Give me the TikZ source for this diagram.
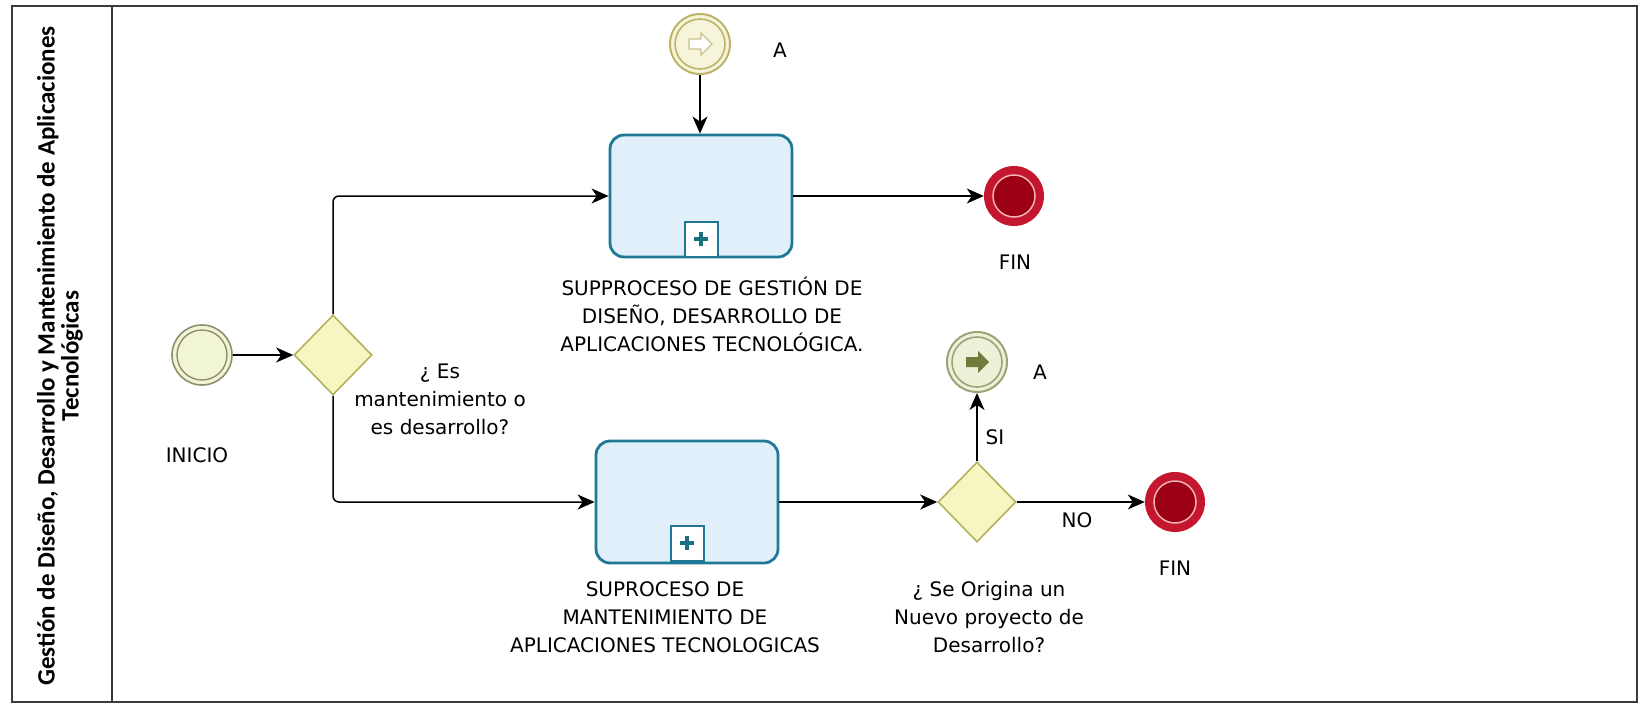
\documentclass[tikz,border=0pt]{standalone}
\usepackage{fontspec}
\setmainfont{DejaVu Sans}
\newfontfamily\lanefont{Carlito}
\usetikzlibrary{shapes.geometric,arrows.meta,calc}
\definecolor{taskborder}{HTML}{1F7896}
\definecolor{taskfill}{HTML}{E1EFFA}
\definecolor{plusc}{HTML}{1A6F80}
\definecolor{gwfill}{HTML}{F6F6C2}
\definecolor{gwborder}{HTML}{B5B15C}
\definecolor{startring}{HTML}{8F8F6B}
\definecolor{startfill}{HTML}{F1F5D6}
\definecolor{linkring}{HTML}{BDB46A}
\definecolor{linkfill}{HTML}{F7F4DC}
\definecolor{throwring}{HTML}{9EA277}
\definecolor{throwfill}{HTML}{EEF0D8}
\definecolor{throwarrow}{HTML}{6F7D3C}
\definecolor{endred}{HTML}{C4162F}
\definecolor{enddark}{HTML}{9C0016}
\definecolor{endpink}{HTML}{F2B3B3}
\definecolor{framegray}{HTML}{3A3A3A}
\begin{document}
\begin{tikzpicture}[x=1pt,y=-1pt,
  every node/.style={font=\fontsize{20}{28}\selectfont, text=black},
  lbl/.style={align=center, inner sep=0pt},
  taskbox/.style={draw=taskborder, line width=2.8pt, fill=taskfill, rounded corners=14pt,
    minimum width=182pt, minimum height=122pt, inner sep=0pt},
  marker/.style={draw=taskborder, line width=2pt, fill=white, minimum width=33pt,
    minimum height=35pt, inner sep=0pt},
  gw/.style={diamond, draw=gwborder, line width=1.6pt, fill=gwfill, minimum width=78pt,
    minimum height=80pt, inner sep=0pt},
  evt/.style={circle, minimum size=60pt, inner sep=0pt},
  flow/.style={draw=black, line width=1.5pt, -{Stealth[length=17pt,width=15pt,inset=5pt]}}
]
\fill[white] (0,0) rectangle (1641,707);
\useasboundingbox (0,0) rectangle (1641,707);

% frame
\draw[framegray, line width=2pt] (12,6) rectangle (1637,702);
\draw[framegray, line width=2pt] (112,6) -- (112,702);
\node[rotate=90, align=center, inner sep=0pt,
  font=\lanefont\bfseries\fontsize{25}{24}\selectfont] (lane) at (60,356)
  {Gestión de Diseño, Desarrollo y Mantenimiento de Aplicaciones\\Tecnológicas};

% start event
\node[evt, draw=startring, line width=1.6pt, fill=startfill] (start) at (202,355) {};
\draw[startring, line width=1.4pt] (start.center) circle (25);
\node[lbl] (inicio) at (197,455) {INICIO};

% gateway 1
\node[gw] (gw1) at (333,355) {};
\node[lbl] (gw1l) at (440,399) {¿ Es\\mantenimiento o\\es desarrollo?};

% task 1
\node[taskbox] (task1) at (701,196) {};
\node[marker] (mk1) at (701,239) {};
\draw[plusc, line width=3.5pt] ($(mk1.center)+(-7,0)$) -- ($(mk1.center)+(7,0)$);
\draw[plusc, line width=3.5pt] ($(mk1.center)+(0,-7)$) -- ($(mk1.center)+(0,7)$);
\node[lbl] (task1l) at (712,314) {SUPPROCESO DE GESTIÓN DE\\DISEÑO, DESARROLLO DE\\APLICACIONES TECNOLÓGICA.};

% task 2
\node[taskbox] (task2) at (687,502) {};
\node[marker] (mk2) at (687,543) {};
\draw[plusc, line width=3.5pt] ($(mk2.center)+(-7,0)$) -- ($(mk2.center)+(7,0)$);
\draw[plusc, line width=3.5pt] ($(mk2.center)+(0,-7)$) -- ($(mk2.center)+(0,7)$);
\node[lbl] (task2l) at (665,617) {SUPROCESO DE\\MANTENIMIENTO DE\\APLICACIONES TECNOLOGICAS};

% catching link event A
\node[evt, draw=linkring, line width=2pt, fill=linkfill] (catchA) at (700,44) {};
\draw[linkring, line width=1.6pt] (catchA.center) circle (25);
\draw[linkring!80, line width=1.2pt, fill=white]
  ($(catchA.center)+(-11,-5)$) -- ($(catchA.center)+(1,-5)$) -- ($(catchA.center)+(1,-11)$)
  -- ($(catchA.center)+(12,0)$) -- ($(catchA.center)+(1,11)$) -- ($(catchA.center)+(1,5)$)
  -- ($(catchA.center)+(-11,5)$) -- cycle;
\node[lbl] (catchAl) at (780,50) {A};

% end event 1
\node[evt, fill=endred] (fin1) at (1014,196) {};
\draw[endpink, line width=1.5pt, fill=enddark] (fin1.center) circle (21);
\node[lbl] (fin1l) at (1015,262) {FIN};

% gateway 2
\node[gw] (gw2) at (977,502) {};
\node[lbl] (gw2l) at (989,617) {¿ Se Origina un\\Nuevo proyecto de\\Desarrollo?};

% throwing link event A
\node[evt, draw=throwring, line width=2pt, fill=throwfill] (throwA) at (977,362) {};
\draw[throwring, line width=1.6pt] (throwA.center) circle (25);
\fill[throwarrow]
  ($(throwA.center)+(-11,-5)$) -- ($(throwA.center)+(1,-5)$) -- ($(throwA.center)+(1,-11)$)
  -- ($(throwA.center)+(12,0)$) -- ($(throwA.center)+(1,11)$) -- ($(throwA.center)+(1,5)$)
  -- ($(throwA.center)+(-11,5)$) -- cycle;
\node[lbl] (throwAl) at (1040,372) {A};

% end event 2
\node[evt, fill=endred] (fin2) at (1175,502) {};
\draw[endpink, line width=1.5pt, fill=enddark] (fin2.center) circle (21);
\node[lbl] (fin2l) at (1175,568) {FIN};

% flows
\draw[flow] (start.east) -- (gw1.west);
\draw[flow, rounded corners=6pt] (gw1.north) |- (task1.west);
\draw[flow, rounded corners=6pt] (gw1.south) |- (task2.west);
\draw[flow] (catchA.south) -- (catchA.south |- task1.north);
\draw[flow] (task1.east) -- (fin1.west);
\draw[flow] (task2.east) -- (gw2.west);
\draw[flow] (gw2.north) -- (throwA.south);
\draw[flow] (gw2.east) -- (fin2.west);
\node[lbl] (si) at (995,437) {SI};
\node[lbl] (no) at (1077,520) {NO};
\end{tikzpicture}
\end{document}
